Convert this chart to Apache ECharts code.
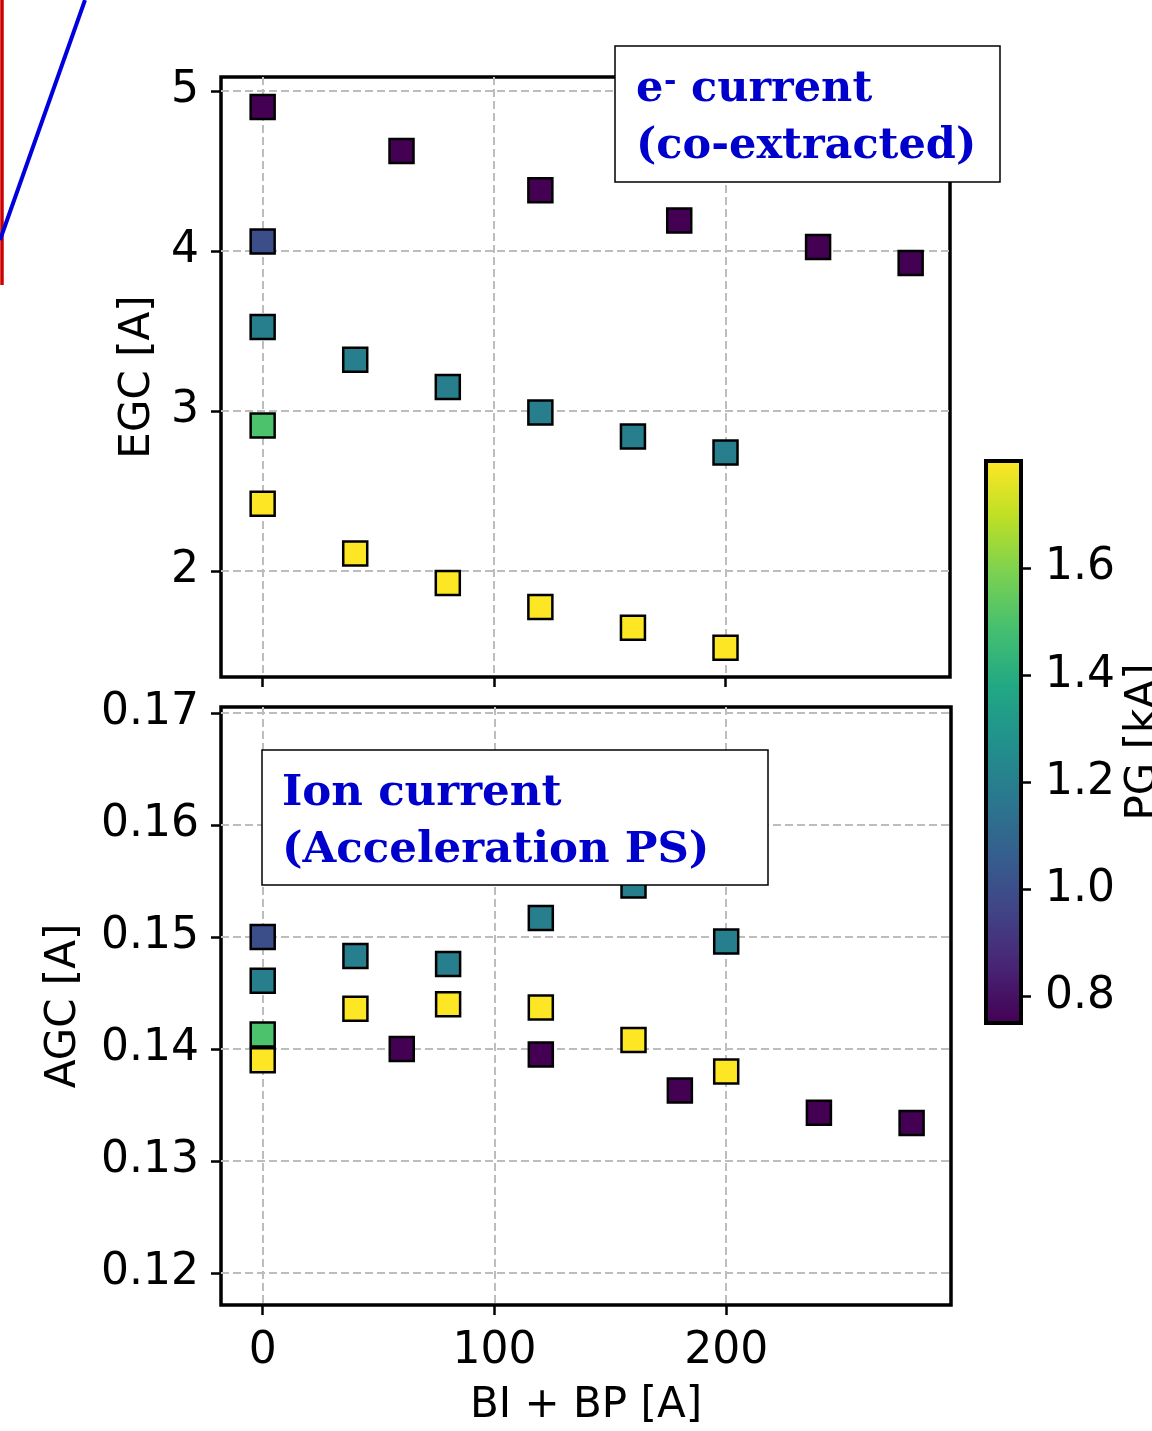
<!DOCTYPE html>
<html><head><meta charset="utf-8">
<script src="https://cdn.jsdelivr.net/npm/echarts@6/dist/echarts.min.js"></script>
<style>html,body{margin:0;padding:0;background:#fff}#c{width:1152px;height:1431px}</style>
</head><body><div id="c"></div>
<script>
// BI + BP [A]
const biBp = [0, 60, 120, 180, 240, 280, 0, 0, 40, 80, 120, 160, 200, 0, 0, 40, 80, 120, 160, 200];
// PG [kA]
const pgKA = [0.75, 0.75, 0.75, 0.75, 0.75, 0.75, 1.0, 1.2, 1.2, 1.2, 1.2, 1.2, 1.2, 1.5, 1.8, 1.8, 1.8, 1.8, 1.8, 1.8];
// EGC [A]
const egcA = [4.90, 4.625, 4.38, 4.19, 4.025, 3.925, 4.06, 3.525, 3.32, 3.15, 2.99, 2.84, 2.74, 2.91, 2.42, 2.11, 1.925, 1.775, 1.645, 1.52];
// AGC [A]
const agcA = [null, 0.1400, 0.1395, 0.1363, 0.1343, 0.1334, 0.1500, 0.1461, 0.1483, 0.1476, 0.1517, 0.1546, 0.1496, 0.1413, 0.1390, 0.1436, 0.1440, 0.1437, 0.1408, 0.1380];

const xTicks = [0, 100, 200];
const egcTicks = [2, 3, 4, 5];
const agcTicks = [0.12, 0.13, 0.14, 0.15, 0.16, 0.17];
const pgTicks = [0.8, 1.0, 1.2, 1.4, 1.6];
const pgRange = [0.75, 1.8];
const xRange = [-18, 297];
const egcRange = [1.3375, 5.0875];
const agcRange = [0.11714, 0.17054];

const viridis = ["#440154","#482475","#414487","#355f8d","#2a788e","#21918c","#22a884","#44bf70","#7ad151","#bddf26","#fde725"];

const egcData = biBp.map((x, i) => [x, egcA[i], pgKA[i]]);
const agcData = biBp.map((x, i) => [x, agcA[i], pgKA[i]]).filter(d => d[1] !== null);

const FONT = 'DejaVu Sans';
const tickStyle = {show: true, inside: false, length: 10, lineStyle: {color: '#000', width: 2.5}};
const splitStyle = {show: true, lineStyle: {color: '#bdbdbd', width: 2, type: [8, 4]}};
const nameStyle = {color: '#000', fontFamily: FONT, fontSize: 42};
const tickLbl = {color: '#000', fontFamily: FONT, fontSize: 44};
const noLine = {show: false, onZero: false};
const annFont = 'bold 43px "DejaVu Serif"';
const annColor = '#0000cc';

const chart = echarts.init(document.getElementById('c'), null, {renderer: 'canvas'});

const gradStops = viridis.map((c, i) => ({offset: i / (viridis.length - 1), color: c}));

const option = {
  backgroundColor: '#fff',
  animation: false,
  grid: [
    {left: 221, top: 77, width: 729, height: 600, show: true, borderColor: '#000', borderWidth: 3.5, containLabel: false, outerBoundsMode: 'none'},
    {left: 221, top: 707, width: 730, height: 598, show: true, borderColor: '#000', borderWidth: 3.5, containLabel: false, outerBoundsMode: 'none'},
    {left: 986, top: 461, width: 35, height: 562, show: false, containLabel: false, outerBoundsMode: 'none'}
  ],
  xAxis: [
    {gridIndex: 0, type: 'value', min: xRange[0], max: xRange[1],
      axisLine: noLine, axisTick: Object.assign({}, tickStyle, {customValues: xTicks}),
      axisLabel: {show: false, customValues: xTicks}, splitLine: splitStyle},
    {gridIndex: 1, type: 'value', min: xRange[0], max: xRange[1],
      name: 'BI + BP [A]', nameLocation: 'middle', nameGap: 80, nameTextStyle: nameStyle,
      axisLine: noLine, axisTick: Object.assign({}, tickStyle, {customValues: xTicks}),
      axisLabel: Object.assign({}, tickLbl, {customValues: xTicks, margin: 25}), splitLine: splitStyle},
    {gridIndex: 2, type: 'value', min: 0, max: 1, show: false, axisLine: noLine}
  ],
  yAxis: [
    {gridIndex: 0, type: 'value', min: egcRange[0], max: egcRange[1],
      name: 'EGC [A]', nameLocation: 'middle', nameGap: 62, nameTextStyle: nameStyle,
      axisLine: noLine, axisTick: Object.assign({}, tickStyle, {customValues: egcTicks}),
      axisLabel: Object.assign({}, tickLbl, {customValues: egcTicks, margin: 22, padding: [6, 0, 0, 0]}), splitLine: splitStyle},
    {gridIndex: 1, type: 'value', min: agcRange[0], max: agcRange[1],
      name: 'AGC [A]', nameLocation: 'middle', nameGap: 136, nameTextStyle: nameStyle,
      axisLine: noLine, axisTick: Object.assign({}, tickStyle, {customValues: agcTicks}),
      axisLabel: Object.assign({}, tickLbl, {customValues: agcTicks, margin: 22, padding: [6, 0, 0, 0], formatter: v => v.toFixed(2)}), splitLine: splitStyle},
    {gridIndex: 2, type: 'value', min: pgRange[0], max: pgRange[1], position: 'right',
      name: 'PG [kA]', nameLocation: 'middle', nameGap: 102, nameTextStyle: nameStyle,
      axisLine: noLine, axisTick: Object.assign({}, tickStyle, {customValues: pgTicks}),
      axisLabel: Object.assign({}, tickLbl, {customValues: pgTicks, margin: 24, padding: [6, 0, 0, 0], formatter: v => v.toFixed(1)}),
      splitLine: {show: false}}
  ],
  visualMap: {
    type: 'continuous', show: false, min: pgRange[0], max: pgRange[1], dimension: 2,
    seriesIndex: [0, 1], inRange: {color: viridis}
  },
  series: [
    {type: 'scatter', xAxisIndex: 0, yAxisIndex: 0, symbol: 'rect', symbolSize: 24,
      itemStyle: {borderColor: '#000', borderWidth: 2.5, opacity: 1}, data: egcData, z: 5},
    {type: 'scatter', xAxisIndex: 1, yAxisIndex: 1, symbol: 'rect', symbolSize: 24,
      itemStyle: {borderColor: '#000', borderWidth: 2.5, opacity: 1}, data: agcData, z: 5},
    {type: 'custom', xAxisIndex: 2, yAxisIndex: 2, encode: {x: 0, y: [1, 2]},
      data: [[0, pgRange[0], pgRange[1]]], z: 1,
      renderItem: function (params, api) {
        const p0 = api.coord([0, api.value(2)]);
        const p1 = api.coord([1, api.value(1)]);
        const shape = {x: p0[0], y: p0[1], width: p1[0] - p0[0], height: p1[1] - p0[1]};
        return {type: 'group', children: [
          {type: 'rect', shape: shape, style: {fill: new echarts.graphic.LinearGradient(0, 1, 0, 0, gradStops)}},
          {type: 'rect', shape: shape, style: {fill: 'none', stroke: '#000', lineWidth: 4}}
        ]};
      }
    }
  ],
  graphic: [
    {type: 'line', shape: {x1: 2, y1: 0, x2: 2, y2: 285}, style: {stroke: '#cc0000', lineWidth: 3.5}, z: 50},
    {type: 'line', shape: {x1: 85, y1: 0, x2: 0, y2: 240}, style: {stroke: '#0000dd', lineWidth: 4}, z: 51},
    {type: 'rect', shape: {x: 615, y: 46, width: 385, height: 136}, style: {fill: '#fff', stroke: '#000', lineWidth: 1.5}, z: 100},
    {type: 'text', x: 636, y: 90, z: 101, style: {text: 'e', fill: annColor, font: annFont, verticalAlign: 'middle'}},
    {type: 'text', x: 664, y: 82, z: 101, style: {text: '-', fill: annColor, font: 'bold 30px "DejaVu Serif"', verticalAlign: 'middle'}},
    {type: 'text', x: 691, y: 90, z: 101, style: {text: 'current', fill: annColor, font: annFont, verticalAlign: 'middle'}},
    {type: 'text', x: 636, y: 147, z: 101, style: {text: '(co-extracted)', fill: annColor, font: annFont, verticalAlign: 'middle'}},
    {type: 'rect', shape: {x: 262, y: 750, width: 506, height: 135}, style: {fill: '#fff', stroke: '#000', lineWidth: 1.5}, z: 100},
    {type: 'text', x: 282, y: 794, z: 101, style: {text: 'Ion current', fill: annColor, font: 'bold 43.5px "DejaVu Serif"', verticalAlign: 'middle'}},
    {type: 'text', x: 282, y: 851, z: 101, style: {text: '(Acceleration PS)', fill: annColor, font: 'bold 43.5px "DejaVu Serif"', verticalAlign: 'middle'}}
  ]
};
chart.setOption(option);
</script>
</body></html>
